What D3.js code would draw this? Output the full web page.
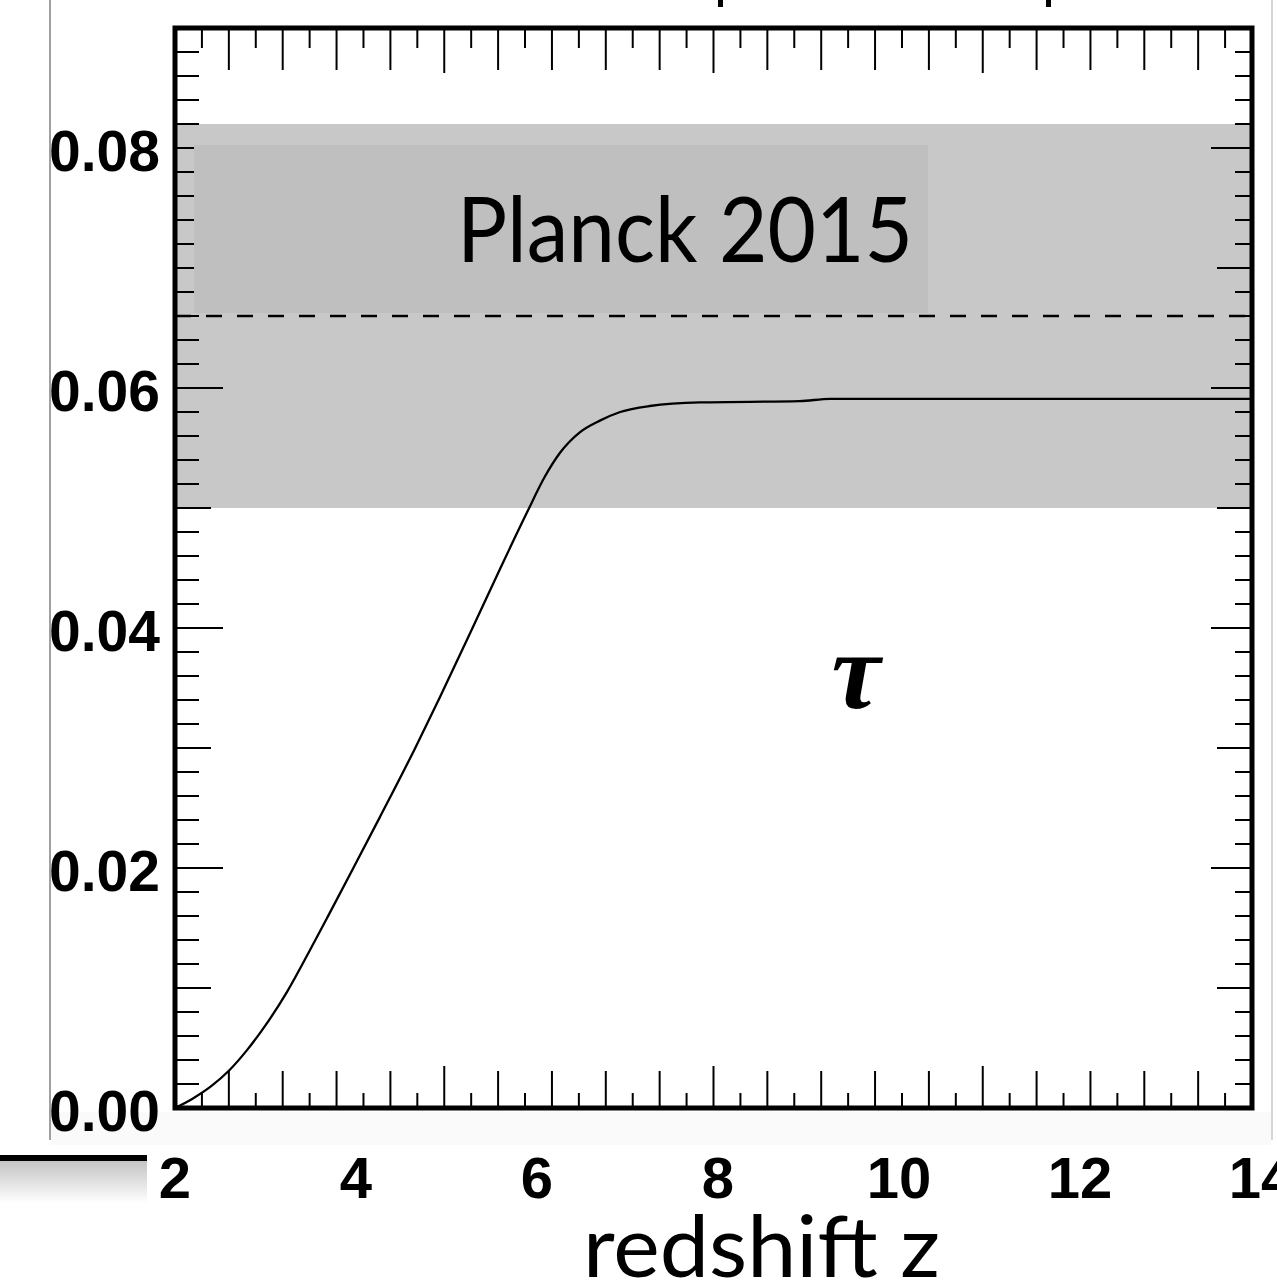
<!DOCTYPE html>
<html><head><meta charset="utf-8">
<script src="https://cdn.jsdelivr.net/npm/d3@7"></script>
<style>body{margin:0;background:#fff;overflow:hidden}</style>
</head><body>
<svg id="c" width="1277" height="1287"></svg>
<script>
// ---- data ----
const redshift = [2.0, 2.2, 2.4, 2.6, 2.8, 3.0, 3.25, 3.5, 3.72, 3.98, 4.28, 4.67, 4.95, 5.29, 5.62, 5.92, 6.12, 6.29, 6.51, 6.74, 6.96, 7.29, 7.85, 8.96, 9.3, 11.0, 14.0];
const tau      = [0.0, 0.0008, 0.0018, 0.0031, 0.0048, 0.0068, 0.0097, 0.0131, 0.0162, 0.0199, 0.0242, 0.0299, 0.0342, 0.0396, 0.0449, 0.0496, 0.0526, 0.0546, 0.0563, 0.0573, 0.058, 0.0585, 0.0588, 0.0589, 0.0591, 0.0591, 0.0591];
const xTickLabels = [2, 4, 6, 8, 10, 12, 14];
const yTickLabels = [0.00, 0.02, 0.04, 0.06, 0.08];
const planckTau = 0.066;
const planckSigma = 0.016;
const bandLabel = "Planck 2015";
const xTitle = "redshift z";
const curveLabel = "τ";

// ---- layout ----
const svg = d3.select("#c");
const x = d3.scaleLinear().domain([2, 14]).range([175, 1252]);
const y = d3.scaleLinear().domain([0, 0.09]).range([1108, 28]);
const xLab = d3.scaleLinear().domain([2, 12]).range([175, 1080]);
const X0 = x.range()[0], X1 = x.range()[1], Y0 = y.range()[0], Y1 = y.range()[1];

// slide decorations
svg.append("line").attr("x1", 50).attr("x2", 50).attr("y1", 0).attr("y2", 1140)
  .attr("stroke", "#a0a0a0").attr("stroke-width", 2);
svg.append("line").attr("x1", 1272).attr("x2", 1272).attr("y1", 0).attr("y2", 1140)
  .attr("stroke", "#c8c8c8").attr("stroke-width", 1.5);
svg.append("rect").attr("x", 51).attr("y", 1112).attr("width", 1220).attr("height", 33).attr("fill", "#fafafa");
const defs = svg.append("defs");
const g1 = defs.append("linearGradient").attr("id", "sh").attr("x1", 0).attr("x2", 0).attr("y1", 0).attr("y2", 1);
g1.append("stop").attr("offset", 0).attr("stop-color", "#c4c4c4");
g1.append("stop").attr("offset", 1).attr("stop-color", "#ffffff");
svg.append("rect").attr("x", 0).attr("y", 1161).attr("width", 147).attr("height", 42).attr("fill", "url(#sh)");
svg.append("rect").attr("x", 0).attr("y", 1155).attr("width", 147).attr("height", 6).attr("fill", "#000");
svg.append("rect").attr("x", 147).attr("y", 1145).attr("width", 1040).attr("height", 60).attr("fill", "#fff");
// cut-off title descenders
[720, 1048].forEach(px => svg.append("rect").attr("x", px - 2).attr("y", 0).attr("width", 5).attr("height", 7).attr("fill", "#000"));

// Planck band
svg.append("rect").attr("x", X0).attr("width", X1 - X0)
  .attr("y", y(planckTau + planckSigma)).attr("height", y(planckTau - planckSigma) - y(planckTau + planckSigma))
  .attr("fill", "#c8c8c8");

// ticks
const tk = svg.append("g").attr("stroke", "#000").attr("stroke-width", 2);
d3.range(0, 41).forEach(k => {
  const v = 2 + k * 0.3;
  const px = x(v);
  const lb = k % 10 === 0 ? 42 : (k % 2 === 0 ? 37 : 15);
  const lt = k % 10 === 0 ? 45 : (k % 2 === 0 ? 42 : 20);
  tk.append("line").attr("x1", px).attr("x2", px).attr("y1", Y0).attr("y2", Y0 - lb);
  tk.append("line").attr("x1", px).attr("x2", px).attr("y1", Y1).attr("y2", Y1 + lt);
});
d3.range(0, 46).forEach(k => {
  const v = k * 0.002;
  const py = y(v);
  const ll = k % 10 === 0 ? 48 : (k % 5 === 0 ? 36 : 24);
  const lr = k % 10 === 0 ? 41 : (k % 5 === 0 ? 35 : 17);
  tk.append("line").attr("x1", X0).attr("x2", X0 + ll).attr("y1", py).attr("y2", py);
  tk.append("line").attr("x1", X1).attr("x2", X1 - lr).attr("y1", py).attr("y2", py);
});

// label box
svg.append("rect").attr("x", 194).attr("y", 145).attr("width", 734).attr("height", 168).attr("fill", "#bfbfbf");
svg.append("text").attr("x", 457).attr("y", 262)
  .attr("font-family", "Lato, 'Open Sans', sans-serif").attr("font-size", 92)
  .attr("textLength", 456).attr("lengthAdjust", "spacingAndGlyphs")
  .attr("fill", "#000").text(bandLabel);

// dashed central value
svg.append("line").attr("x1", X0).attr("x2", X1).attr("y1", y(planckTau)).attr("y2", y(planckTau))
  .attr("stroke", "#000").attr("stroke-width", 2.5).attr("stroke-dasharray", "16,15");

// curve
const pts = redshift.map((z, i) => [z, tau[i]]);
svg.append("path").datum(pts)
  .attr("d", d3.line().x(d => x(d[0])).y(d => y(d[1])).curve(d3.curveMonotoneX))
  .attr("fill", "none").attr("stroke", "#000").attr("stroke-width", 2.3);

// frame
svg.append("rect").attr("x", X0).attr("y", Y1).attr("width", X1 - X0).attr("height", Y0 - Y1)
  .attr("fill", "none").attr("stroke", "#000").attr("stroke-width", 5);

// tau label
svg.append("text").attr("x", 856).attr("y", 708).attr("text-anchor", "middle")
  .attr("font-family", "'Liberation Serif', 'DejaVu Serif', serif").attr("font-style", "italic").attr("font-weight", "bold")
  .attr("font-size", 110).attr("fill", "#000").text(curveLabel);

// y tick labels
svg.append("g").selectAll("text").data(yTickLabels).join("text")
  .attr("x", 160).attr("y", d => y(d) + 23).attr("text-anchor", "end")
  .attr("font-family", "'Liberation Sans', Arial, sans-serif").attr("font-weight", "bold").attr("font-size", 57)
  .attr("fill", "#000").text(d => d.toFixed(2));

// x tick labels
svg.append("g").selectAll("text").data(xTickLabels).join("text")
  .attr("x", d => xLab(d)).attr("y", 1198).attr("text-anchor", "middle")
  .attr("font-family", "'Liberation Sans', Arial, sans-serif").attr("font-weight", "bold").attr("font-size", 58)
  .attr("fill", "#000").text(d => d);

// x title
svg.append("text").attr("x", 583).attr("y", 1277)
  .attr("font-family", "Lato, 'Open Sans', sans-serif").attr("font-size", 86)
  .attr("textLength", 357).attr("lengthAdjust", "spacingAndGlyphs")
  .attr("fill", "#000").text(xTitle);
</script>
</body></html>
